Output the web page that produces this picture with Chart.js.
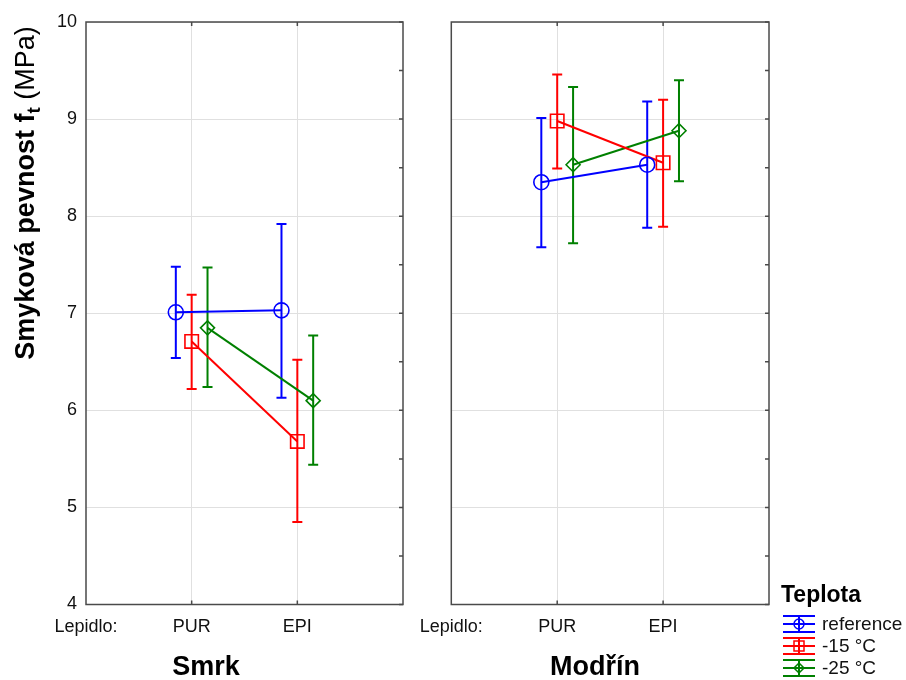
<!DOCTYPE html>
<html>
<head>
<meta charset="utf-8">
<title>Smyková pevnost</title>
<script src="https://cdn.jsdelivr.net/npm/chart.js@4.4.0/dist/chart.umd.min.js"></script>
<style>
  html, body { margin: 0; padding: 0; background: #fff; }
  #wrap { position: relative; width: 906px; height: 680px; }
  #wrap canvas { position: absolute; left: 0; top: 0; }
</style>
</head>
<body>
<div id="wrap">
  <canvas id="smrk" width="906" height="680"></canvas>
  <canvas id="modrin" width="906" height="680"></canvas>
</div>
<script>
// ===== Data =====
const adhesives = ["PUR", "EPI"];
const xLabels = ["Lepidlo:", "PUR", "EPI", ""];
const temps = ["reference", "-15 °C", "-25 °C"];

// Smrk: means and confidence limits, one row per temperature
const smrkMean = [[7.01, 7.03], [6.71, 5.68], [6.85, 6.10]];
const smrkLow  = [[6.54, 6.13], [6.22, 4.85], [6.24, 5.44]];
const smrkHigh = [[7.48, 7.92], [7.19, 6.52], [7.47, 6.77]];

// Modřín
const modrinMean = [[8.35, 8.53], [8.98, 8.55], [8.53, 8.88]];
const modrinLow  = [[7.68, 7.88], [8.49, 7.89], [7.72, 8.36]];
const modrinHigh = [[9.01, 9.18], [9.46, 9.20], [9.33, 9.40]];

// ===== Styles =====
const FONT = "'Liberation Sans', Arial, sans-serif";
const colors = ["#0000ff", "#ff0000", "#008000"];
const markers = ["circle", "rect", "rectRot"];
const markerSize = [7.5, 9.5, 7];
const shift = [-0.15, 0, 0.15];
const gridColor = "#e0e0e0";
const frameColor = "#4a4a4a";

function buildDatasets(mean, low, high) {
  return temps.map((t, s) => ({
    label: t,
    data: adhesives.map((a, i) => ({ x: i + 1 + shift[s], y: mean[s][i], lo: low[s][i], hi: high[s][i] })),
    borderColor: colors[s],
    borderWidth: 2,
    pointStyle: markers[s],
    pointRadius: markerSize[s],
    pointBorderWidth: 1.6,
    pointBorderColor: colors[s],
    pointBackgroundColor: "rgba(0,0,0,0)",
    showLine: true,
    tension: 0
  }));
}

// Whiskers drawn under the lines
const errorBars = {
  id: "errorBars",
  beforeDatasetsDraw(chart) {
    const { ctx, scales: { x, y } } = chart;
    ctx.save();
    ctx.lineWidth = 2;
    chart.data.datasets.forEach(ds => {
      ctx.strokeStyle = ds.borderColor;
      ds.data.forEach(p => {
        const px = x.getPixelForValue(p.x);
        const top = y.getPixelForValue(p.hi);
        const bot = y.getPixelForValue(p.lo);
        ctx.beginPath();
        ctx.moveTo(px, top); ctx.lineTo(px, bot);
        ctx.moveTo(px - 5, top); ctx.lineTo(px + 5, top);
        ctx.moveTo(px - 5, bot); ctx.lineTo(px + 5, bot);
        ctx.stroke();
      });
    });
    ctx.restore();
  }
};

// Panel frame with small inner ticks
const frame = {
  id: "frame",
  afterDatasetsDraw(chart) {
    const { ctx, chartArea: a, scales: { x, y } } = chart;
    ctx.save();
    ctx.strokeStyle = frameColor;
    ctx.lineWidth = 1.5;
    ctx.strokeRect(a.left, a.top, a.right - a.left, a.bottom - a.top);
    ctx.beginPath();
    for (let v = 4; v <= 10; v += 0.5) {
      const py = y.getPixelForValue(v);
      ctx.moveTo(a.right - 4, py); ctx.lineTo(a.right, py);
    }
    [1, 2].forEach(v => {
      const px = x.getPixelForValue(v);
      ctx.moveTo(px, a.top); ctx.lineTo(px, a.top + 4);
      ctx.moveTo(px, a.bottom); ctx.lineTo(px, a.bottom - 4);
    });
    ctx.stroke();
    ctx.restore();
  }
};

// Captions outside the plot areas
const captions = {
  id: "captions",
  afterDraw(chart, args, opts) {
    const ctx = chart.ctx;
    ctx.save();
    ctx.fillStyle = "#000";
    ctx.textBaseline = "middle";
    ctx.textAlign = "center";
    ctx.font = "bold 27px " + FONT;
    ctx.fillText(opts.title, opts.titleX, 668);

    if (opts.yTitle) {
      // rotated axis title with subscript
      const parts = [
        { t: "Smyková pevnost f", f: "bold 27px " + FONT, dy: 0 },
        { t: "t", f: "bold 19px " + FONT, dy: 6 },
        { t: " (MPa)", f: "27px " + FONT, dy: 0 }
      ];
      let total = 0;
      parts.forEach(p => { ctx.font = p.f; p.w = ctx.measureText(p.t).width; total += p.w; });
      ctx.translate(34, 193);
      ctx.rotate(-Math.PI / 2);
      ctx.textAlign = "left";
      ctx.textBaseline = "alphabetic";
      let cx = -total / 2;
      parts.forEach(p => {
        ctx.font = p.f;
        ctx.fillText(p.t, cx, p.dy);
        cx += p.w;
      });
    }

    if (opts.legend) {
      ctx.textAlign = "left";
      ctx.font = "bold 23px " + FONT;
      ctx.fillText("Teplota", 781, 596);
      const rows = [624, 646, 668];
      temps.forEach((t, s) => {
        const cy = rows[s];
        ctx.strokeStyle = colors[s];
        ctx.lineWidth = 2;
        ctx.beginPath();
        ctx.moveTo(783, cy - 8); ctx.lineTo(815, cy - 8);
        ctx.moveTo(783, cy); ctx.lineTo(815, cy);
        ctx.moveTo(783, cy + 8); ctx.lineTo(815, cy + 8);
        ctx.moveTo(799, cy - 8); ctx.lineTo(799, cy + 8);
        ctx.stroke();
        ctx.lineWidth = 1.5;
        ctx.beginPath();
        if (s === 0) {
          ctx.arc(799, cy, 5, 0, Math.PI * 2);
        } else if (s === 1) {
          ctx.rect(794, cy - 5, 10, 10);
        } else {
          ctx.moveTo(799, cy - 5); ctx.lineTo(804, cy); ctx.lineTo(799, cy + 5); ctx.lineTo(794, cy); ctx.closePath();
        }
        ctx.stroke();
        ctx.fillStyle = "#111";
        ctx.font = "19px " + FONT;
        ctx.fillText(t, 822, cy + 1);
      });
    }
    ctx.restore();
  }
};

function makeChart(id, datasets, padding, showY, capOpts) {
  return new Chart(document.getElementById(id), {
    type: "line",
    data: { datasets },
    plugins: [errorBars, frame, captions],
    options: {
      responsive: false,
      animation: false,
      devicePixelRatio: 1,
      layout: { padding },
      plugins: {
        legend: { display: false },
        tooltip: { enabled: false },
        captions: capOpts
      },
      scales: {
        x: {
          type: "linear",
          min: 0,
          max: 3,
          afterBuildTicks: s => { s.ticks = [0, 1, 2, 3].map(v => ({ value: v })); },
          afterFit: s => { s.height = 40; },
          ticks: {
            callback: v => xLabels[v],
            autoSkip: false,
            maxRotation: 0,
            padding: 12,
            color: "#111",
            font: { family: FONT, size: 18 }
          },
          grid: {
            drawTicks: false,
            color: c => (c.tick && (c.tick.value === 1 || c.tick.value === 2)) ? gridColor : "rgba(0,0,0,0)"
          },
          border: { display: false }
        },
        y: {
          min: 4,
          max: 10,
          afterFit: s => { s.width = 86; },
          ticks: {
            display: showY,
            stepSize: 1,
            padding: 9,
            color: "#111",
            font: { family: FONT, size: 18 }
          },
          grid: { drawTicks: false, color: gridColor },
          border: { display: false }
        }
      }
    }
  });
}

makeChart("smrk", buildDatasets(smrkMean, smrkLow, smrkHigh),
  { left: 0, top: 22, right: 503, bottom: 35.5 }, true,
  { title: "Smrk", titleX: 206, yTitle: true });

makeChart("modrin", buildDatasets(modrinMean, modrinLow, modrinHigh),
  { left: 365.3, top: 22, right: 137, bottom: 35.5 }, false,
  { title: "Modřín", titleX: 595, legend: true });
</script>
</body>
</html>
